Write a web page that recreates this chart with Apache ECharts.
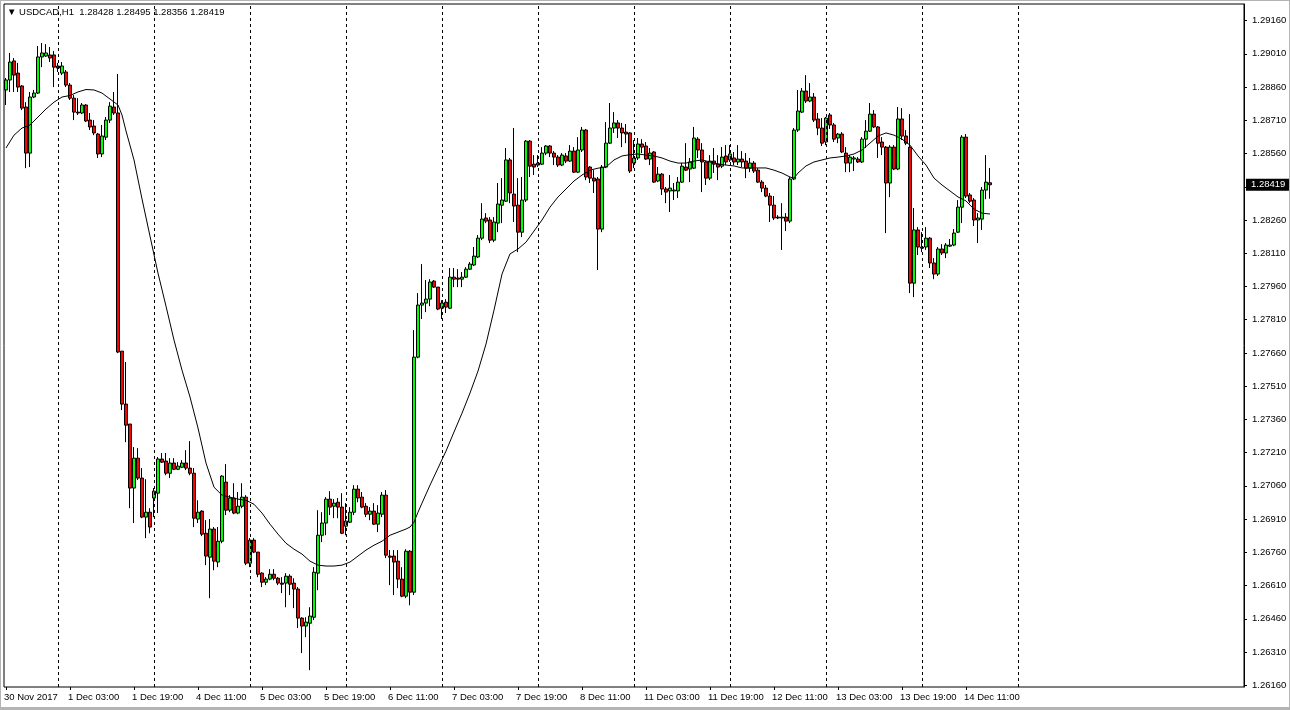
<!DOCTYPE html>
<html>
<head>
<meta charset="utf-8">
<title>USDCAD,H1</title>
<script src="https://cdn.jsdelivr.net/npm/echarts@6.0.0/dist/echarts.min.js"></script>
<style>
  html, body { margin: 0; padding: 0; background: #fff; }
  #wrap { position: relative; width: 1290px; height: 710px; }
  #main { width: 1290px; height: 710px; }
  #wrap::after {
    content: ""; position: absolute; left: 0; top: 0; right: 0; bottom: 0;
    border: 1px solid #b4b4b4; border-bottom-width: 3px; pointer-events: none;
  }
</style>
</head>
<body>
<div id="wrap"><div id="main"></div></div>
<script>
// bar times: trading days, first bar is 30 Nov 11:00 (H1)
const tradingDays = ["30 Nov", "1 Dec", "4 Dec", "5 Dec", "6 Dec", "7 Dec", "8 Dec", "11 Dec", "12 Dec", "13 Dec", "14 Dec", "15 Dec", "18 Dec"];
const firstHour = 11;
const barCount = 310;

const opens = [1.28847,1.28892,1.28978,1.28923,1.28865,1.28770,1.28562,1.28815,1.28833,1.28996,1.29000,1.29005,1.29005,1.28955,1.28923,1.28928,1.28869,1.28810,1.28747,1.28743,
1.28779,1.28711,1.28684,1.28648,1.28558,1.28634,1.28711,1.28770,1.28743,1.27668,1.27429,1.27339,1.27050,1.27185,1.27095,1.26919,1.26941,1.27005,1.27027,1.27181,
1.27172,1.27117,1.27163,1.27135,1.27144,1.27163,1.27140,1.27117,1.26910,1.26946,1.26846,1.26738,1.26865,1.26716,1.26810,1.27077,1.26950,1.27005,1.26937,1.26968,
1.27009,1.26711,1.26815,1.26761,1.26666,1.26625,1.26639,1.26661,1.26643,1.26621,1.26621,1.26652,1.26621,1.26594,1.26463,1.26427,1.26440,1.26467,1.26666,1.26837,
1.26892,1.27000,1.26968,1.26986,1.26964,1.26878,1.26896,1.26941,1.27045,1.27009,1.26968,1.26932,1.26946,1.26887,1.26932,1.27018,1.26743,1.26743,1.26720,1.26639,
1.26562,1.26765,1.26580,1.27641,1.27876,1.27885,1.27903,1.27984,1.27957,1.27862,1.27889,1.27862,1.28002,1.27998,1.27993,1.28002,1.28038,1.28057,1.28093,1.28178,
1.28269,1.28260,1.28169,1.28246,1.28327,1.28345,1.28531,1.28377,1.28327,1.28205,1.28350,1.28616,1.28512,1.28508,1.28512,1.28562,1.28594,1.28562,1.28544,1.28508,
1.28549,1.28526,1.28571,1.28476,1.28576,1.28666,1.28499,1.28449,1.28445,1.28219,1.28499,1.28607,1.28675,1.28698,1.28675,1.28657,1.28653,1.28517,1.28540,1.28603,
1.28594,1.28535,1.28567,1.28436,1.28467,1.28400,1.28391,1.28391,1.28391,1.28431,1.28499,1.28490,1.28494,1.28625,1.28576,1.28522,1.28449,1.28526,1.28512,1.28503,
1.28549,1.28531,1.28540,1.28522,1.28535,1.28526,1.28494,1.28517,1.28485,1.28431,1.28404,1.28368,1.28327,1.28273,1.28269,1.28273,1.28255,1.28445,1.28666,1.28747,
1.28842,1.28797,1.28815,1.28716,1.28675,1.28612,1.28734,1.28689,1.28630,1.28648,1.28562,1.28517,1.28535,1.28535,1.28522,1.28625,1.28661,1.28738,1.28680,1.28612,
1.28589,1.28427,1.28589,1.28490,1.28716,1.28639,1.28589,1.27975,1.28215,1.28133,1.28138,1.28178,1.28066,1.28016,1.28129,1.28111,1.28142,1.28147,1.28205,1.28318,
1.28634,1.28373,1.28350,1.28260,1.28264,1.28395,1.28428];

const closes = [1.28892,1.28973,1.28914,1.28860,1.28765,1.28562,1.28815,1.28833,1.28996,1.29014,1.29014,1.28991,1.28950,1.28946,1.28955,1.28869,1.28810,1.28747,1.28743,1.28779,
1.28707,1.28680,1.28653,1.28558,1.28639,1.28711,1.28774,1.28743,1.27664,1.27429,1.27334,1.27050,1.27185,1.27095,1.26919,1.26941,1.26874,1.27036,1.27181,1.27167,
1.27117,1.27163,1.27135,1.27149,1.27163,1.27140,1.27117,1.26914,1.26941,1.26842,1.26743,1.26865,1.26720,1.26810,1.27104,1.26950,1.27005,1.26937,1.26968,1.27009,
1.26711,1.26815,1.26761,1.26661,1.26625,1.26639,1.26661,1.26643,1.26621,1.26616,1.26652,1.26616,1.26594,1.26463,1.26427,1.26445,1.26472,1.26670,1.26837,1.26892,
1.27000,1.26964,1.26982,1.26964,1.26846,1.26901,1.26941,1.27045,1.27005,1.26964,1.26932,1.26946,1.26887,1.26937,1.27018,1.26747,1.26738,1.26716,1.26639,1.26562,
1.26765,1.26580,1.27641,1.27876,1.27885,1.27903,1.27980,1.27957,1.27858,1.27885,1.27867,1.28002,1.27993,1.27993,1.28002,1.28038,1.28061,1.28097,1.28178,1.28264,
1.28255,1.28169,1.28251,1.28332,1.28350,1.28531,1.28382,1.28323,1.28205,1.28350,1.28616,1.28503,1.28499,1.28517,1.28562,1.28594,1.28562,1.28544,1.28508,1.28553,
1.28526,1.28571,1.28476,1.28576,1.28666,1.28454,1.28449,1.28436,1.28219,1.28499,1.28607,1.28675,1.28698,1.28675,1.28653,1.28648,1.28481,1.28540,1.28603,1.28589,
1.28535,1.28562,1.28431,1.28467,1.28400,1.28386,1.28404,1.28395,1.28431,1.28503,1.28485,1.28522,1.28630,1.28576,1.28522,1.28449,1.28526,1.28512,1.28499,1.28544,
1.28522,1.28558,1.28522,1.28535,1.28522,1.28494,1.28517,1.28481,1.28431,1.28404,1.28368,1.28327,1.28269,1.28269,1.28273,1.28255,1.28445,1.28666,1.28752,1.28842,
1.28797,1.28815,1.28711,1.28675,1.28607,1.28720,1.28689,1.28625,1.28648,1.28567,1.28517,1.28544,1.28540,1.28522,1.28625,1.28661,1.28738,1.28680,1.28607,1.28589,
1.28427,1.28589,1.28490,1.28716,1.28639,1.28607,1.27975,1.28215,1.28138,1.28138,1.28178,1.28066,1.28016,1.28129,1.28111,1.28147,1.28147,1.28201,1.28318,1.28634,
1.28368,1.28345,1.28260,1.28269,1.28395,1.28431,1.28419];

const lows = [1.28779,1.28838,1.28838,1.28838,1.28756,1.28494,1.28499,1.28810,1.28829,1.28950,1.28996,1.28973,1.28860,1.28928,1.28914,1.28860,1.28802,1.28711,1.28734,1.28738,
1.28702,1.28666,1.28643,1.28540,1.28544,1.28621,1.28698,1.28734,1.27659,1.27402,1.27257,1.26959,1.26892,1.27086,1.26914,1.26824,1.26846,1.26919,1.26937,1.27163,
1.27108,1.27095,1.27131,1.27131,1.27140,1.27131,1.27108,1.26874,1.26892,1.26833,1.26702,1.26553,1.26679,1.26693,1.26801,1.26928,1.26941,1.26932,1.26932,1.26959,
1.26702,1.26693,1.26756,1.26648,1.26603,1.26612,1.26634,1.26634,1.26612,1.26576,1.26512,1.26567,1.26508,1.26418,1.26305,1.26377,1.26228,1.26454,1.26589,1.26806,
1.26837,1.26928,1.26914,1.26914,1.26842,1.26837,1.26892,1.26928,1.26986,1.26959,1.26919,1.26905,1.26883,1.26851,1.26919,1.26734,1.26612,1.26567,1.26598,1.26557,
1.26553,1.26521,1.26567,1.27636,1.27813,1.27844,1.27871,1.27953,1.27853,1.27813,1.27840,1.27858,1.27957,1.27957,1.27957,1.27998,1.28034,1.28052,1.28088,1.28169,
1.28246,1.28156,1.28160,1.28205,1.28246,1.28341,1.28336,1.28251,1.28115,1.28183,1.28341,1.28454,1.28463,1.28499,1.28508,1.28553,1.28544,1.28508,1.28499,1.28503,
1.28517,1.28522,1.28472,1.28472,1.28567,1.28440,1.28427,1.28382,1.28034,1.28205,1.28494,1.28603,1.28653,1.28630,1.28589,1.28607,1.28472,1.28494,1.28531,1.28562,
1.28531,1.28508,1.28427,1.28431,1.28373,1.28336,1.28296,1.28350,1.28359,1.28427,1.28481,1.28431,1.28490,1.28540,1.28386,1.28418,1.28440,1.28472,1.28440,1.28494,
1.28508,1.28522,1.28508,1.28508,1.28499,1.28449,1.28476,1.28472,1.28427,1.28386,1.28363,1.28251,1.28260,1.28264,1.28125,1.28210,1.28246,1.28440,1.28657,1.28743,
1.28788,1.28792,1.28702,1.28643,1.28594,1.28598,1.28671,1.28612,1.28607,1.28562,1.28476,1.28476,1.28481,1.28517,1.28517,1.28585,1.28657,1.28675,1.28540,1.28553,
1.28201,1.28363,1.28485,1.28485,1.28621,1.28598,1.27930,1.27912,1.28102,1.28115,1.28125,1.28043,1.27993,1.28007,1.28102,1.28088,1.28138,1.28142,1.28201,1.28246,
1.28359,1.28336,1.28233,1.28156,1.28215,1.28354,1.28356];

const highs = [1.28901,1.29014,1.28991,1.28969,1.28869,1.28792,1.28838,1.28847,1.29045,1.29059,1.29054,1.29041,1.29023,1.28969,1.28973,1.28937,1.28878,1.28824,1.28810,1.28788,
1.28783,1.28743,1.28711,1.28653,1.28689,1.28725,1.28792,1.28838,1.28919,1.27668,1.27619,1.27339,1.27235,1.27230,1.27140,1.27090,1.26959,1.27050,1.27190,1.27208,
1.27208,1.27185,1.27185,1.27167,1.27176,1.27221,1.27262,1.27140,1.26995,1.26950,1.26905,1.26910,1.26874,1.26874,1.27108,1.27158,1.27018,1.27072,1.27032,1.27072,
1.27018,1.26824,1.26824,1.26761,1.26670,1.26648,1.26684,1.26684,1.26648,1.26648,1.26666,1.26661,1.26643,1.26603,1.26467,1.26467,1.26512,1.26693,1.26950,1.26941,
1.27009,1.27036,1.27000,1.27005,1.27027,1.26982,1.26964,1.27063,1.27063,1.27032,1.26982,1.26964,1.26982,1.26973,1.27032,1.27041,1.26770,1.26770,1.26770,1.26693,
1.26774,1.26770,1.27763,1.27930,1.28061,1.27989,1.27993,1.27989,1.27957,1.27898,1.27903,1.28043,1.28043,1.28038,1.28025,1.28047,1.28070,1.28138,1.28192,1.28336,
1.28291,1.28273,1.28273,1.28427,1.28449,1.28585,1.28540,1.28675,1.28449,1.28454,1.28621,1.28621,1.28553,1.28553,1.28589,1.28598,1.28598,1.28571,1.28553,1.28562,
1.28562,1.28598,1.28589,1.28634,1.28680,1.28671,1.28503,1.28485,1.28454,1.28508,1.28702,1.28788,1.28747,1.28711,1.28698,1.28693,1.28657,1.28621,1.28630,1.28625,
1.28612,1.28585,1.28571,1.28499,1.28472,1.28409,1.28463,1.28427,1.28454,1.28517,1.28607,1.28540,1.28680,1.28634,1.28607,1.28526,1.28553,1.28585,1.28553,1.28589,
1.28598,1.28598,1.28567,1.28598,1.28571,1.28562,1.28540,1.28526,1.28494,1.28440,1.28418,1.28382,1.28368,1.28282,1.28336,1.28291,1.28454,1.28675,1.28847,1.28856,
1.28914,1.28878,1.28833,1.28743,1.28720,1.28725,1.28743,1.28698,1.28653,1.28657,1.28589,1.28553,1.28549,1.28544,1.28634,1.28711,1.28788,1.28756,1.28684,1.28634,
1.28594,1.28598,1.28598,1.28770,1.28765,1.28666,1.28738,1.28314,1.28228,1.28205,1.28228,1.28183,1.28088,1.28138,1.28151,1.28156,1.28174,1.28219,1.28350,1.28643,
1.28648,1.28382,1.28359,1.28291,1.28409,1.28553,1.28495];

// moving average at these bars
const maBars = [0,2,4,6,8,10,12,14,16,18,20,22,24,26,28,29,30,32,34,36,38,40,42,44,46,48,50,52,54,56,58,60,62,64,66,68,70,72,74,76,78,80,82,84,86,88,90,92,94,96,98,100,101,102,103,104,106,108,110,112,114,116,118,120,122,124,126,128,130,132,134,136,138,140,142,144,146,148,150,152,154,156,158,160,162,164,166,168,170,172,174,176,178,180,182,184,186,188,190,192,194,196,197,198,200,202,204,206,208,210,212,214,216,218,220,222,224,226,228,230,232,234,236,238,240,242,244,246];
const maValues = [1.28585,1.28643,1.28675,1.28689,1.28725,1.28761,1.28792,1.28815,1.28822,1.28838,1.28849,1.28847,1.28833,1.28806,1.28779,1.28734,1.28662,1.28531,1.28355,1.28187,1.28020,1.27871,1.27718,1.27582,1.27461,1.27321,1.27163,1.27054,1.27018,1.27009,1.27000,1.26995,1.26977,1.26937,1.26887,1.26842,1.26801,1.26774,1.26752,1.26720,1.26702,1.26698,1.26698,1.26702,1.26716,1.26743,1.26770,1.26792,1.26810,1.26837,1.26851,1.26865,1.26874,1.26896,1.26941,1.26982,1.27063,1.27140,1.27217,1.27303,1.27388,1.27479,1.27578,1.27700,1.27853,1.28016,1.28107,1.28129,1.28160,1.28210,1.28260,1.28318,1.28364,1.28400,1.28436,1.28463,1.28485,1.28494,1.28499,1.28531,1.28549,1.28555,1.28558,1.28553,1.28549,1.28540,1.28526,1.28517,1.28517,1.28526,1.28531,1.28522,1.28513,1.28508,1.28504,1.28495,1.28495,1.28495,1.28495,1.28485,1.28472,1.28454,1.28449,1.28472,1.28504,1.28522,1.28531,1.28540,1.28544,1.28549,1.28558,1.28576,1.28607,1.28639,1.28653,1.28643,1.28625,1.28598,1.28549,1.28508,1.28449,1.28418,1.28391,1.28364,1.28346,1.28309,1.28291,1.28287];

const yTicks = [1.26160,1.26310,1.26460,1.26610,1.26760,1.26910,1.27060,1.27210,1.27360,1.27510,1.27660,1.27810,1.27960,1.28110,1.28260,1.28410,1.28560,1.28710,1.28860,1.29010,1.29160];
const xLabelBars = [0,16,32,48,64,80,96,112,128,144,160,176,192,208,224,240];
const xLabels = ["30 Nov 2017","1 Dec 03:00","1 Dec 19:00","4 Dec 11:00","5 Dec 03:00","5 Dec 19:00","6 Dec 11:00","7 Dec 03:00","7 Dec 19:00","8 Dec 11:00","11 Dec 03:00","11 Dec 19:00","12 Dec 11:00","13 Dec 03:00","13 Dec 19:00","14 Dec 11:00"];
const daySeparatorBars = [13,37,61,85,109,133,157,181,205,229,253];
const lastPrice = 1.28419;

const categories = [];
let day = 0, hour = firstHour;
for (let i = 0; i < barCount; i++) {
  categories.push(tradingDays[day] + " " + String(hour).padStart(2, "0") + ":00");
  hour++;
  if (hour === 24) { hour = 0; day++; }
}

const candles = opens.map((o, i) => [o, closes[i], lows[i], highs[i]]);
const maData = maBars.map((b, k) => [b, maValues[k]]);

const font = "Liberation Sans";

// day separators (dashed) + last price tag on the right scale
const markLines = daySeparatorBars.map((b) => ({
  xAxis: categories[b],
  lineStyle: { color: "#000", width: 1, type: [3, 3] },
  label: { show: false }
}));
markLines.push({
  yAxis: lastPrice,
  lineStyle: { color: "rgba(0,0,0,0)", width: 1 },
  label: {
    show: true,
    position: "end",
    distance: 2,
    formatter: () => lastPrice.toFixed(5),
    backgroundColor: "#000",
    color: "#fff",
    padding: [1, 6, 1, 5],
    fontFamily: font,
    fontSize: 9.5
  }
});

const chart = echarts.init(document.getElementById("main"));
const option = {
  animation: false,
  backgroundColor: "#fff",
  title: {
    text: "\u25BC USDCAD,H1  1.28428 1.28495 1.28356 1.28419",
    left: 7,
    top: 7,
    padding: 0,
    textStyle: { fontFamily: font, fontSize: 9.5, fontWeight: "normal", color: "#000" }
  },
  grid: {
    left: 4,
    right: 46,
    top: 4,
    bottom: 23,
    show: true,
    borderColor: "#000",
    borderWidth: 1,
    backgroundColor: "#fff"
  },
  xAxis: {
    type: "category",
    data: categories,
    boundaryGap: true,
    axisLine: { show: false },
    axisTick: {
      show: true,
      alignWithLabel: true,
      length: 3,
      interval: (idx) => xLabelBars.includes(idx),
      lineStyle: { color: "#000" }
    },
    axisLabel: {
      interval: (idx) => xLabelBars.includes(idx),
      formatter: (v, idx) => xLabels[xLabelBars.indexOf(idx)],
      align: "left",
      margin: 5,
      padding: [0, 0, 0, -2],
      color: "#000",
      fontFamily: font,
      fontSize: 9.5
    },
    splitLine: { show: false }
  },
  yAxis: {
    type: "value",
    position: "right",
    scale: true,
    min: 1.26152,
    max: 1.29235,
    axisLine: { show: true, lineStyle: { color: "#000" } },
    axisTick: { show: true, length: 3, customValues: yTicks, lineStyle: { color: "#000" } },
    axisLabel: {
      customValues: yTicks,
      formatter: (v) => v.toFixed(5),
      color: "#000",
      fontFamily: font,
      fontSize: 9.5,
      margin: 8,
      align: "left"
    },
    splitLine: { show: false }
  },
  series: [
    {
      name: "USDCAD",
      type: "candlestick",
      data: candles,
      barWidth: 3,
      itemStyle: {
        color: "#00ff00",
        color0: "#ff0000",
        borderColor: "#000",
        borderColor0: "#000",
        borderWidth: 1
      }
    },
    {
      name: "MA",
      type: "line",
      data: maData,
      showSymbol: false,
      symbol: "none",
      connectNulls: true,
      lineStyle: { color: "#000", width: 1 },
      z: 3,
      markLine: {
        silent: true,
        precision: 5,
        symbol: ["none", "none"],
        animation: false,
        data: markLines
      }
    }
  ]
};
chart.setOption(option);
</script>
</body>
</html>
